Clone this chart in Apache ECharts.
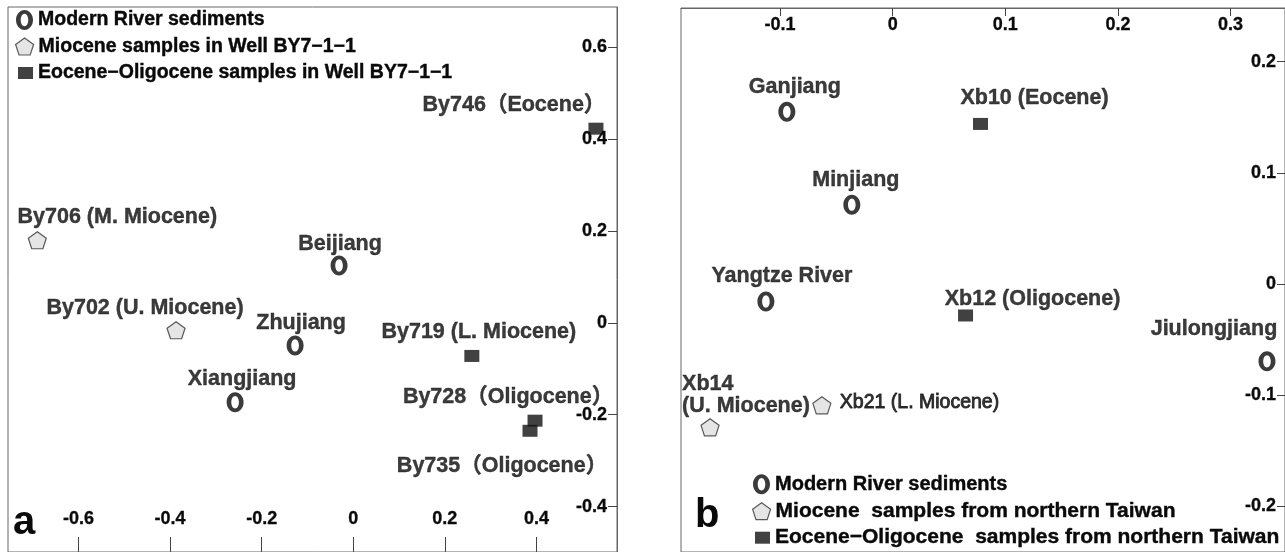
<!DOCTYPE html>
<html>
<head>
<meta charset="utf-8">
<title>MDS plots of detrital zircon age spectra</title>
<script src="https://cdn.jsdelivr.net/npm/echarts@6/dist/echarts.min.js"></script>
<style>
  html, body { margin: 0; padding: 0; background: #ffffff; }
  #chart { width: 1285px; height: 552px; }
</style>
</head>
<body>
<div id="chart"></div>
<script>
// ---------------- Panel a: Well BY7-1-1 vs. modern rivers ----------------
const riverNamesA = ['Beijiang', 'Zhujiang', 'Xiangjiang'];
const riverDim1A  = [-0.031, -0.127, -0.258];
const riverDim2A  = [0.125, -0.049, -0.173];

const mioNamesA = ['By706 (M. Miocene)', 'By702 (U. Miocene)'];
const mioDim1A  = [-0.690, -0.387];
const mioDim2A  = [0.180, -0.016];

const eoNamesA = ['By746（Eocene）', 'By719 (L. Miocene)', 'By728（Oligocene）', 'By735（Oligocene）'];
const eoDim1A  = [0.530, 0.259, 0.397, 0.386];
const eoDim2A  = [0.423, -0.072, -0.213, -0.235];

const ticksXA = [-0.6, -0.4, -0.2, 0, 0.2, 0.4];
const ticksYA = [-0.4, -0.2, 0, 0.2, 0.4, 0.6];

// ---------------- Panel b: northern Taiwan vs. modern rivers ----------------
const riverNamesB = ['Ganjiang', 'Minjiang', 'Yangtze River', 'Jiulongjiang'];
const riverDim1B  = [-0.094, -0.0363, -0.1126, 0.3324];
const riverDim2B  = [0.1549, 0.0713, -0.0159, -0.0698];

const mioNamesB = ['Xb21 (L. Miocene)', 'Xb14\n(U. Miocene)'];
const mioDim1B  = [-0.0629, -0.1622];
const mioDim2B  = [-0.1094, -0.1292];

const eoNamesB = ['Xb10 (Eocene)', 'Xb12 (Oligocene)'];
const eoDim1B  = [0.078, 0.0647];
const eoDim2B  = [0.144, -0.0285];

const ticksXB = [-0.1, 0, 0.1, 0.2, 0.3];
const ticksYB = [-0.2, -0.1, 0, 0.1, 0.2];

// Legend wording
const legendA = ['Modern River sediments', 'Miocene samples in Well BY7\u22121\u22121', 'Eocene\u2212Oligocene samples in Well BY7\u22121\u22121'];
const legendB = ['Modern River sediments', 'Miocene  samples from northern Taiwan', 'Eocene\u2212Oligocene  samples from northern Taiwan'];

// ---------------- label placement (pixel offsets from each marker) ----------------
const riverLabelOffA = [[1, -21], [6, -22], [7, -23]];
const mioLabelOffA   = [[80, -23], [-31, -22]];
const eoLabelOffA    = [[-82, -24], [7, -24], [-27, -24], [-28, 35]];

const riverLabelOffB = [[8, -25], [4, -25], [16, -25], [-53, -32]];
const mioLabelOffB   = [[18, -3], [-28, -32]];
const mioLabelAlignB = ['left', 'left'];
// the Xb21 caption is set a little lighter and smaller than the rest
const mioLabelFontB  = [
  { fontSize: 19.5, fontWeight: 'normal', textBorderWidth: 0.9 },
  {}
];
const eoLabelOffB    = [[54, -26], [67, -16]];

// ---------------- styling ----------------
const FONT = "'Liberation Sans', Arial, 'Noto Sans CJK SC', sans-serif";
const INK = '#0a0a0a';
const AXIS = '#666666';

// bold "O" ring used for modern river sediments (outer clockwise, inner counter-clockwise)
const RING = 'path://' +
  'M8.5,0C13.195,0 17,4.477 17,10C17,15.523 13.195,20 8.5,20C3.805,20 0,15.523 0,10C0,4.477 3.805,0 8.5,0Z' +
  'M8.5,3.8C6.401,3.8 4.7,6.576 4.7,10C4.7,13.424 6.401,16.2 8.5,16.2C10.599,16.2 12.3,13.424 12.3,10C12.3,6.576 10.599,3.8 8.5,3.8Z';
const PENTAGON = 'path://M9,0L18,6.5L14.6,17L3.4,17L0,6.5Z';

const ringStyle = { color: INK, borderWidth: 0 };
const pentStyle = { color: '#dedede', borderColor: '#333333', borderWidth: 1.2 };
const squareStyle = { color: '#111111', borderWidth: 0 };

function points(names, d1, d2, offsets, aligns, fonts) {
  return names.map((n, i) => {
    const label = Object.assign(
      { offset: offsets[i], align: aligns ? aligns[i] : 'center' },
      fonts ? fonts[i] : {}
    );
    return { name: n, value: [d1[i], d2[i]], label: label };
  });
}

const labelBase = {
  show: true,
  position: 'inside',
  formatter: '{b}',
  fontSize: 21.5,
  fontWeight: 'bold',
  fontFamily: FONT,
  color: INK,
  lineHeight: 22,
  verticalAlign: 'middle',
  textBorderColor: INK,
  textBorderWidth: 0.4
};

function scatter(name, gridIdx, symbol, size, style, data) {
  return {
    type: 'scatter',
    name: name,
    xAxisIndex: gridIdx,
    yAxisIndex: gridIdx,
    symbol: symbol,
    symbolSize: size,
    itemStyle: style,
    label: labelBase,
    emphasis: { disabled: true },
    silent: true,
    data: data
  };
}

const tickLabelStyle = {
  fontSize: 18,
  fontWeight: 'bold',
  fontFamily: FONT,
  color: INK,
  textBorderColor: INK,
  textBorderWidth: 0.3
};

function axis(gridIdx, position, min, max, ticks, tickLen, margin) {
  return {
    type: 'value',
    gridIndex: gridIdx,
    position: position,
    min: min,
    max: max,
    axisLine: { show: true, onZero: false, lineStyle: { color: AXIS, width: 1 } },
    axisTick: { show: true, inside: true, length: tickLen, customValues: ticks,
                lineStyle: { color: '#444444', width: 1 } },
    axisLabel: Object.assign({ show: true, inside: true, margin: margin, customValues: ticks,
                               showMinLabel: true, showMaxLabel: true }, tickLabelStyle),
    splitLine: { show: false }
  };
}

function legendItem(name, icon, style, w, h, left, centerY, fontSize) {
  return {
    show: true,
    orient: 'vertical',
    left: left,
    top: centerY - 10,
    padding: 0,
    itemWidth: w,
    itemHeight: h,
    selectedMode: false,
    textStyle: { fontSize: fontSize, fontWeight: 'bold', fontFamily: FONT, color: INK, lineHeight: 20,
                 textBorderColor: INK, textBorderWidth: 0.4 },
    data: [{ name: name, icon: icon, itemStyle: style }]
  };
}

const option = {
  animation: false,
  backgroundColor: '#ffffff',
  grid: [
    { left: 8, top: 7, width: 609, height: 546, show: true, borderColor: AXIS, borderWidth: 1, backgroundColor: 'transparent' },
    { left: 681, top: 8, width: 605, height: 545, show: true, borderColor: AXIS, borderWidth: 1, backgroundColor: 'transparent' }
  ],
  xAxis: [
    axis(0, 'bottom', -0.754, 0.576, ticksXA, 15, 24),
    axis(1, 'top', -0.188, 0.3484, ticksXB, 8, 8)
  ],
  yAxis: [
    axis(0, 'right', -0.499, 0.688, ticksYA, 9, 10),
    axis(1, 'right', -0.2415, 0.2484, ticksYB, 8, 9)
  ],
  legend: [
    legendItem(legendA[0], RING, ringStyle, 17, 20, 16, 20, 19.5),
    legendItem(legendA[1], PENTAGON, pentStyle, 18, 17, 15, 46.5, 19.5),
    legendItem(legendA[2], 'rect', squareStyle, 15, 12, 18, 73, 19.5),
    legendItem(legendB[0], RING, ringStyle, 17, 20, 753, 484, 20),
    legendItem(legendB[1], PENTAGON, pentStyle, 18, 17, 752, 510.5, 21),
    legendItem(legendB[2], 'rect', squareStyle, 15, 12, 755, 537, 21)
  ],
  graphic: [
    { type: 'text', left: 13, top: 503, silent: true,
      style: { text: 'a', font: "bold 40px 'Liberation Sans Narrow', 'Liberation Sans', Arial, sans-serif", fill: INK } },
    { type: 'text', left: 695, top: 496, silent: true,
      style: { text: 'b', font: "bold 40px 'Liberation Sans Narrow', 'Liberation Sans', Arial, sans-serif", fill: INK } }
  ],
  series: [
    scatter(legendA[0], 0, RING, [17, 20], ringStyle,
            points(riverNamesA, riverDim1A, riverDim2A, riverLabelOffA)),
    scatter(legendA[1], 0, PENTAGON, [18, 17], pentStyle,
            points(mioNamesA, mioDim1A, mioDim2A, mioLabelOffA)),
    scatter(legendA[2], 0, 'rect', [15, 12], squareStyle,
            points(eoNamesA, eoDim1A, eoDim2A, eoLabelOffA)),
    scatter(legendB[0], 1, RING, [17, 20], ringStyle,
            points(riverNamesB, riverDim1B, riverDim2B, riverLabelOffB)),
    scatter(legendB[1], 1, PENTAGON, [18, 17], pentStyle,
            points(mioNamesB, mioDim1B, mioDim2B, mioLabelOffB, mioLabelAlignB, mioLabelFontB)),
    scatter(legendB[2], 1, 'rect', [15, 12], squareStyle,
            points(eoNamesB, eoDim1B, eoDim2B, eoLabelOffB))
  ]
};

const chart = echarts.init(document.getElementById('chart'), null, { renderer: 'canvas' });
chart.setOption(option);
</script>
</body>
</html>
